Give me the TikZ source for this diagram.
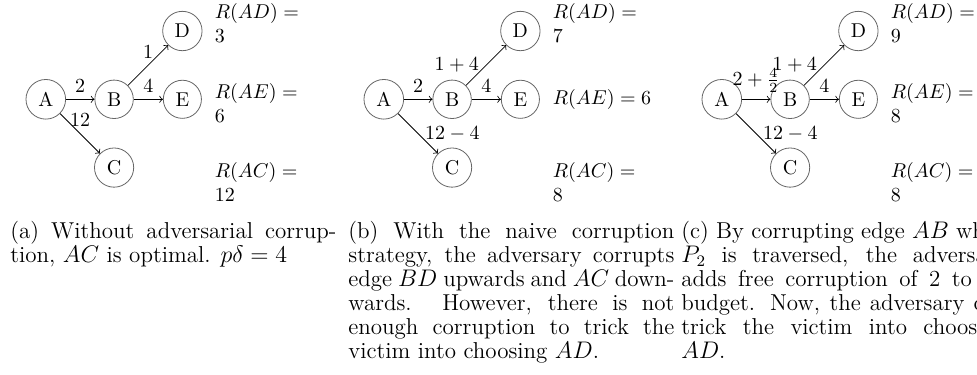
\documentclass[tikz,border=0pt]{standalone}
\usepackage{amsmath}
\usetikzlibrary{calc}
\begin{document}
\begin{tikzpicture}[x=1pt,y=1pt,
  vert/.style={circle,draw=black!60},
  edge/.style={->},
  rlab/.style={anchor=west,align=left,inner sep=0pt},
  rlabtwo/.style={rlab,yshift=-1.75pt},
  captext/.style={anchor=north west,text width=163pt,align=justify,inner sep=0pt,
    font=\fontsize{11.5}{12}\selectfont}]
\useasboundingbox (0,0) rectangle (488.5,187);
\clip (0,0) rectangle (488.5,187);
% ---------- (a) ----------
\begin{scope}[shift={(22.9,137.35)}]
\node[vert] (Aa) at (0,0) {A};
\node[vert] (Ba) at (1.2cm,0) {B};
\node[vert] (Ea) at (2.4cm,0) {E};
\node[vert] (Da) at (2.4cm,1.2cm) {D};
\node[vert] (Ca) at (1.2cm,-1.2cm) {C};
\draw[edge] (Aa) -- node[above] {$2$} (Ba);
\draw[edge] (Ba) -- node[above] {$4$} (Ea);
\draw[edge] (Ba) -- node[above] {$1$} (Da);
\draw[edge] (Aa) -- node[above] {$12$} (Ca);
\node[rlabtwo] (RDa) at ($(2.4cm,1.4cm)+(16pt,0)$) {$R(AD)=$\\3};
\node[rlabtwo] (REa) at ($(2.4cm,0)+(16pt,0)$) {$R(AE)=$\\6};
\node[rlabtwo] (RCa) at ($(2.4cm,-1.4cm)+(16pt,0)$) {$R(AC)=$\\12};
\node[captext] (capa) at (-17.9,-60.85) {\strut(a) Without adversarial corruption, $AC$ is optimal. $p\delta=4$};
\end{scope}
% ---------- (b) ----------
\begin{scope}[shift={(191.9,137.35)}]
\node[vert] (Ab) at (0,0) {A};
\node[vert] (Bb) at (1.2cm,0) {B};
\node[vert] (Eb) at (2.4cm,0) {E};
\node[vert] (Db) at (2.4cm,1.2cm) {D};
\node[vert] (Cb) at (1.2cm,-1.2cm) {C};
\draw[edge] (Ab) -- node[above] {$2$} (Bb);
\draw[edge] (Bb) -- node[above] {$4$} (Eb);
\draw[edge] (Bb) -- node[left] {$1+4$} (Db);
\draw[edge] (Ab) -- node[right] {$12-4$} (Cb);
\node[rlabtwo] (RDb) at ($(2.4cm,1.4cm)+(16pt,0)$) {$R(AD)=$\\7};
\node[rlab] (REb) at ($(2.4cm,0)+(16pt,0)$) {$R(AE)=6$};
\node[rlabtwo] (RCb) at ($(2.4cm,-1.4cm)+(16pt,0)$) {$R(AC)=$\\8};
\node[captext] (capb) at (-17.9,-60.85) {\strut(b) With the naive corruption strategy, the adversary corrupts edge $BD$ upwards and $AC$ downwards. However, there is not enough corruption to trick the victim into choosing $AD$.};
\end{scope}
% ---------- (c) ----------
\begin{scope}[shift={(360.9,137.35)}]
\node[vert] (Ac) at (0,0) {A};
\node[vert] (Bc) at (1.2cm,0) {B};
\node[vert] (Ec) at (2.4cm,0) {E};
\node[vert] (Dc) at (2.4cm,1.2cm) {D};
\node[vert] (Cc) at (1.2cm,-1.2cm) {C};
\draw[edge] (Ac) -- node[above] {$2+\frac{4}{2}$} (Bc);
\draw[edge] (Bc) -- node[above] {$4$} (Ec);
\draw[edge] (Bc) -- node[left] {$1+4$} (Dc);
\draw[edge] (Ac) -- node[right] {$12-4$} (Cc);
\node[rlabtwo] (RDc) at ($(2.4cm,1.4cm)+(16pt,0)$) {$R(AD)=$\\9};
\node[rlabtwo] (REc) at ($(2.4cm,0)+(16pt,0)$) {$R(AE)=$\\8};
\node[rlabtwo] (RCc) at ($(2.4cm,-1.4cm)+(16pt,0)$) {$R(AC)=$\\8};
\node[captext] (capc) at (-20.4,-60.85) {\strut(c) By corrupting edge $AB$ when $P_2$ is traversed, the adversary adds free corruption of 2 to its budget. Now, the adversary can trick the victim into choosing $AD$.};
\end{scope}
\end{tikzpicture}
\end{document}
